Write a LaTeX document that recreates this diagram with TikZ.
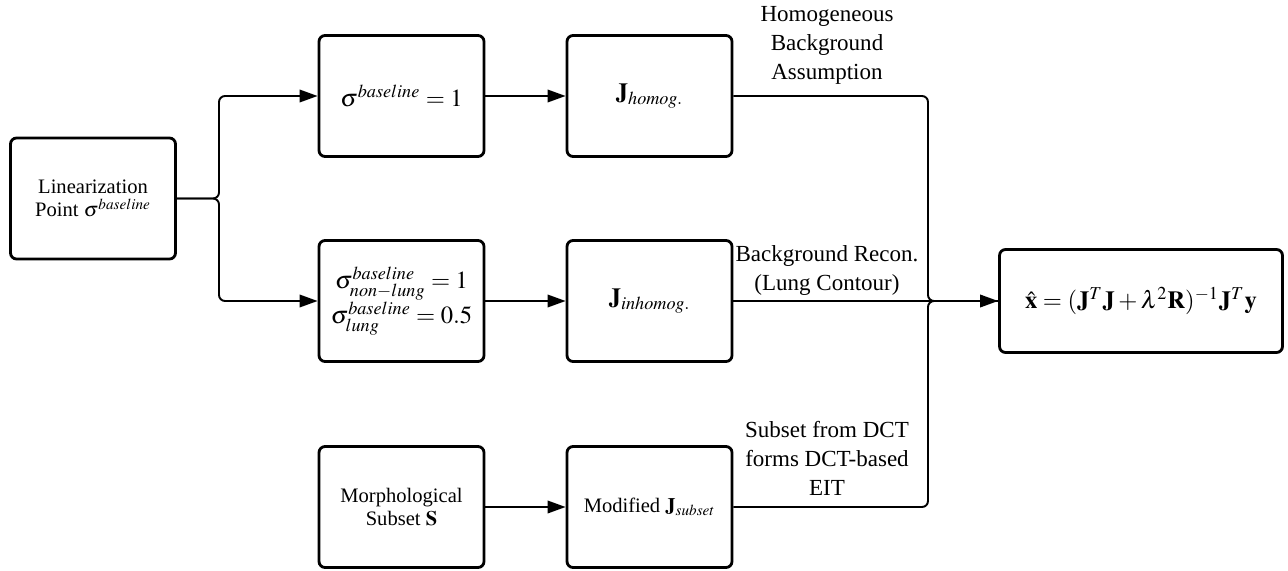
\documentclass[tikz,border=0pt]{standalone}
\usepackage{amsmath}
\usepackage{mathptmx}
\usepackage[no-math]{fontspec}
\setmainfont{Liberation Serif}
\usetikzlibrary{arrows.meta}
\tikzstyle{Box}=[draw,rounded corners=0.12cm,line width=1.6pt,
minimum width=3.3cm,minimum height=2.42cm,align=center,
font=\fontsize{11.7}{13.2}\selectfont]
\tikzstyle{MathBox}=[Box,font=\fontsize{14}{18}\selectfont]
\tikzstyle{Edge}=[line width=1.1pt,rounded corners=0.12cm]
\tikzstyle{Arrow}=[Edge,-{Triangle[length=0.36cm,width=0.25cm]}]
\tikzstyle{Label}=[align=center,inner sep=0pt,
font=\fontsize{13.1}{16.5}\selectfont]

\begin{document}
\begin{tikzpicture}[x=0.02cm,y=-0.02cm]
        \useasboundingbox(0,0)rectangle(1288,571);
        \node[Box](lin)at(93,198.5){Linearization\\Point $\sigma^{baseline}$};
        \node[MathBox](sig)at(401.5,96){$\sigma^{baseline}=1$};
        \node[MathBox](jho)at(649.5,96){$\mathbf{J}_{homog.}$};
        \node[MathBox](sigl)at(401.5,301)
            {$\sigma^{baseline}_{non-lung}=1$\\$\sigma^{baseline}_{lung}=0.5$};
        \node[MathBox](jin)at(649.5,301){$\mathbf{J}_{inhomog.}$};
        \node[Box](mor)at(401.5,507){Morphological\\Subset $\mathbf{S}$};
        \node[Box](jsu)at(649.5,507){Modified $\mathbf{J}_{subset}$};
        \node[Box,minimum width=5.66cm,minimum height=2.06cm,
            font=\fontsize{14}{16}\selectfont](xhat)at(1141,301)
            {$\hat{\mathbf{x}}=(\mathbf{J}^T\mathbf{J}+\lambda^2\mathbf{R})^{-1}\mathbf{J}^T\mathbf{y}$};
        \coordinate(b)at(219,198.5);
        \coordinate(m)at(928,301);
        \draw[Arrow](lin.east)--(b)--(b|-sig.west)--(sig.west);
        \draw[Arrow](lin.east)--(b)--(b|-sigl.west)--(sigl.west);
        \draw[Arrow](sig)--(jho);
        \draw[Arrow](sigl)--(jin);
        \draw[Arrow](mor)--(jsu);
        \draw[Edge](jho.east)--(m|-jho.east)--(m)--(xhat.west);
        \draw[Edge](jsu.east)--(m|-jsu.east)--(m)--(xhat.west);
        \draw[Arrow](jin.east)--(xhat.west);
        \node[Label,anchor=south](hlab)at(827,85)
            {Homogeneous\\Background\\Assumption};
        \node[Label,anchor=south](blab)at(827,296)
            {Background Recon.\\(Lung Contour)};
        \node[Label,anchor=south](slab)at(827,496)
            {Subset from DCT\\forms DCT-based\\EIT};
    \end{tikzpicture}
\end{document}
